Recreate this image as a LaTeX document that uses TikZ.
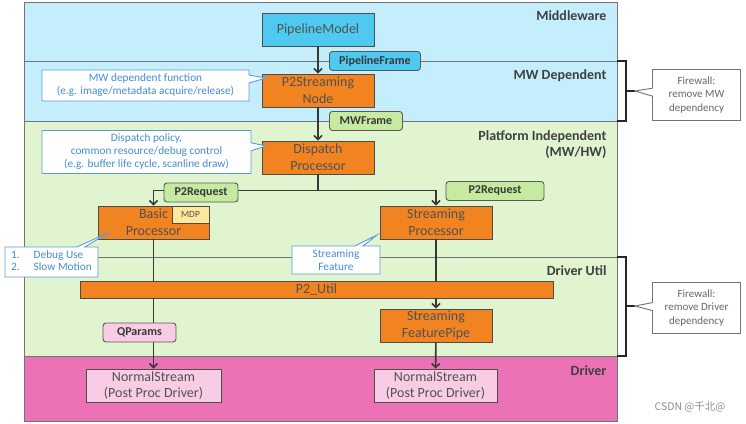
\documentclass[tikz,border=0pt]{standalone}
\usepackage{fontspec}
\setmainfont{Carlito}
\newfontfamily\cjkfont{Noto Sans CJK SC}
\usetikzlibrary{shapes.callouts, arrows.meta}
\definecolor{bandB}{RGB}{197,238,252}
\definecolor{bandG}{RGB}{224,244,208}
\definecolor{bandP}{RGB}{236,114,182}
\definecolor{figC}{RGB}{79,201,240}
\definecolor{figO}{RGB}{241,131,33}
\definecolor{tagG}{RGB}{198,234,160}
\definecolor{figP}{RGB}{247,204,228}
\definecolor{figY}{RGB}{255,232,154}
\definecolor{noteB}{RGB}{91,155,213}
\definecolor{noteT}{RGB}{68,140,210}
\tikzset{
  box/.style={draw=black!70, line width=0.9pt, minimum width=112pt, minimum height=33pt,
    align=center, text=black!68, font=\fontsize{14}{16.7}\selectfont, inner sep=1pt},
  tag/.style={draw=black!65, line width=0.9pt, rounded corners=3pt, minimum height=19pt,
    inner sep=1pt, text=black!78, font=\bfseries\fontsize{12}{14}\selectfont},
  note/.style={rectangle callout, draw=noteB, line width=0.9pt, fill=white, text=noteT,
    align=center, inner sep=1pt, callout pointer width=8pt,
    font=\fontsize{11.3}{13}\selectfont},
  fw/.style={rectangle callout, draw=black!55, line width=0.9pt, fill=white, text=black!60,
    align=center, minimum width=88pt, minimum height=51pt, callout pointer width=8pt,
    font=\fontsize{11}{13.3}\selectfont},
  flow/.style={draw=black!78, line width=1.6pt, -{Straight Barb[length=4pt,width=8pt]}},
  link/.style={draw=black!78, line width=1.6pt},
  layer/.style={anchor=north east, align=right, text=black!75,
    font=\bfseries\fontsize{14}{16.5}\selectfont},
  brk/.style={draw=black!85, line width=1.2pt}
}

\begin{document}
\begin{tikzpicture}[x=1pt, y=-1pt]
  \useasboundingbox (0,0) rectangle (746,423);
  % layers
  \fill[bandB] (24,2) rectangle (617,121);
  \fill[bandG] (24,121) rectangle (617,356);
  \fill[bandP] (24,356) rectangle (617,421);
  \draw[black!55, line width=0.9pt] (24,61) -- (617,61);
  \draw[black!55, line width=0.9pt] (24,121) -- (617,121);
  \draw[black!55, line width=0.9pt] (24,257) -- (617,257);
  \draw[black!55, line width=0.9pt] (24,356) -- (617,356);
  \draw[black!55, line width=0.9pt] (24,2) rectangle (617,421);
  \node[layer] (lmw) at (610,7) {Middleware};
  \node[layer] (lmwd) at (610,66) {MW Dependent};
  \node[layer] (lpi) at (610,127) {Platform Independent\\(MW/HW)};
  \node[layer] (ldu) at (610,262) {Driver Util};
  \node[layer] (ldrv) at (610,362) {Driver};
  % firewall brackets
  \draw[brk] (617,61) -- (626,61) -- (626,121) -- (617,121);
  \draw[brk] (617,257) -- (626,257) -- (626,356) -- (617,356);
  \coordinate (fwtop) at (635,91);
  \coordinate (fwbot) at (635,306);
  \draw[brk] (626,91) -- (fwtop);
  \draw[brk] (626,306) -- (fwbot);

  % blocks
  \node[box, fill=figC] (model) at (318,29.5) {PipelineModel};
  \node[box, fill=figO] (p2node) at (318,90.5) {P2Streaming\\Node};
  \node[box, fill=figO] (dispatch) at (318,157.5) {Dispatch\\Processor};
  \node[box, fill=figO, minimum width=111pt] (basic) at (153.5,222.5) {Basic\\Processor};
  \node[box, fill=figO] (stproc) at (436,222.5) {Streaming\\Processor};
  \node[box, fill=figO, minimum width=473pt, minimum height=17pt] (util) at (316.5,289.5) {P2\_Util};
  \node[box, fill=figO] (fpipe) at (436,325.5) {Streaming\\FeaturePipe};
  \node[box, fill=figP, minimum width=135pt] (ns1) at (153.5,385.5) {NormalStream\\(Post Proc Driver)};
  \node[box, fill=figP, minimum width=123pt] (ns2) at (435.5,385.5) {NormalStream\\(Post Proc Driver)};
  \node[box, fill=figY, anchor=north east, minimum width=37pt, minimum height=17pt,
    font=\fontsize{9.5}{11}\selectfont] (mdp) at (basic.north east) {MDP};

  % flows
  \draw[flow] (model) -- (p2node);
  \draw[flow] (p2node) -- (dispatch);
  \draw[flow] (dispatch.south) -- ++(0,16) -| (basic.north);
  \draw[flow] (dispatch.south) -- ++(0,16) -| (stproc.north);
  \draw[link] (basic.south) -- (basic.south |- util.north);
  \draw[link] (stproc.south) -- (stproc.south |- util.north);
  \draw[flow] (basic.south |- util.south) -- (ns1.north);
  \draw[flow] (stproc.south |- util.south) -- (fpipe.north);
  \draw[flow] (fpipe) -- (ns2);

  % data tags
  \node[tag, fill=figC, anchor=north west, minimum width=91pt] (pframe) at (329,51) {PipelineFrame};
  \node[tag, fill=tagG, anchor=north west, minimum width=73pt] (mwframe) at (329,111) {MWFrame};
  \node[tag, fill=tagG, minimum width=74pt] (req1) at (201,192.5) {P2Request};
  \node[tag, fill=tagG, minimum width=98pt] (req2) at (495,191) {P2Request};
  \node[tag, fill=figP, minimum width=73pt] (qparams) at (139.5,332.5) {QParams};

  % notes
  \coordinate (tipA) at (266,78);
  \coordinate (tipB) at (266,146);
  \coordinate (tipC) at (110,232);
  \coordinate (tipD) at (377,235);
  \node[note, minimum width=207pt, minimum height=31pt, callout absolute pointer={(tipA)}]
    (mwnote) at (145.5,85.5) {MW dependent function\\(e.g. image/metadata acquire/release)};
  \node[note, minimum width=209pt, minimum height=43pt, callout absolute pointer={(tipB)}]
    (dpnote) at (146.5,152) {Dispatch policy,\\common resource/debug control\\(e.g. buffer life cycle, scanline draw)};
  \node[note, minimum width=93pt, minimum height=30pt, callout absolute pointer={(tipC)}]
    (dbgnote) at (51.5,262) {\begin{tabular}{@{}l@{\hspace{14pt}}l@{}}1.&Debug Use\\[-1.5pt]2.&Slow Motion\end{tabular}};
  \node[note, minimum width=88pt, minimum height=28pt, callout absolute pointer={(tipD)}]
    (sfnote) at (336,260) {Streaming\\Feature};
  \node[fw, callout absolute pointer={(fwtop)}] (fwmw) at (696.5,95) {Firewall:\\remove MW\\dependency};
  \node[fw, callout absolute pointer={(fwbot)}] (fwdrv) at (696.5,308) {Firewall:\\remove Driver\\dependency};

  \node[text=black!45, font=\cjkfont\fontsize{10.5}{12}\selectfont] (mark) at (690,407) {CSDN @千北@};
\end{tikzpicture}
\end{document}
